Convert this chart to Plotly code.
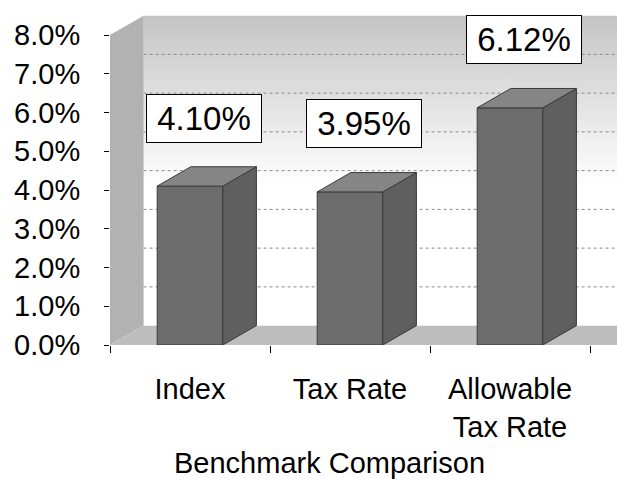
import plotly.graph_objects as go

categories = ["Index", "Tax Rate", "Allowable<br>Tax Rate"]
values = [4.10, 3.95, 6.12]
value_labels = ["4.10%", "3.95%", "6.12%"]
y_ticks = [0, 1, 2, 3, 4, 5, 6, 7, 8]
y_tick_labels = ["0.0%", "1.0%", "2.0%", "3.0%", "4.0%", "5.0%", "6.0%", "7.0%", "8.0%"]

FONT = "Arial, Liberation Sans, sans-serif"
DX, DY = 0.21, 0.5      # 3-D depth offset in data units
HW = 0.205              # half width of a bar's front face
n = len(categories)
centers = [i + 0.5 for i in range(n)]
ymax_wall = max(y_ticks)

fig = go.Figure()

def poly(xs, ys, fill, line_color=None, width=0, **kw):
    fig.add_trace(go.Scatter(
        x=xs + [xs[0]], y=ys + [ys[0]], mode="lines", fill="toself",
        fillcolor=fill, line=dict(color=line_color or fill, width=width),
        hoverinfo="skip", showlegend=False, **kw))

# back wall (gradient)
fig.add_trace(go.Scatter(
    x=[DX, n + DX + 0.5, n + DX + 0.5, DX, DX],
    y=[DY, DY, ymax_wall + DY, ymax_wall + DY, DY],
    mode="lines", fill="toself", line=dict(width=0, color="rgba(0,0,0,0)"),
    fillgradient=dict(type="vertical",
                      colorscale=[[0, "#ffffff"], [0.45, "#ffffff"], [1, "#c4c4c4"]]),
    hoverinfo="skip", showlegend=False))
# left wall
poly([0, DX, DX, 0], [0, DY, ymax_wall + DY, ymax_wall], "#b2b2b2")
# floor
poly([0, n + 0.5, n + 0.5 + DX, DX], [0, 0, DY, DY], "#bdbdbd")

# gridlines on back wall
for t in y_ticks[1:-1]:
    fig.add_trace(go.Scatter(
        x=[DX, n + DX + 0.5], y=[t + DY, t + DY], mode="lines",
        line=dict(color="#8a8a8a", width=1, dash="dot"),
        hoverinfo="skip", showlegend=False))

# 3-D bars
for c, v in zip(centers, values):
    x0, x1 = c - HW, c + HW
    poly([x0, x1, x1, x0], [0, 0, v, v], "#6c6c6c", "#3a3a3a", 1)
    poly([x1, x1 + DX, x1 + DX, x1], [0, DY, v + DY, v], "#5f5f5f", "#3a3a3a", 1)
    poly([x0, x1, x1 + DX, x0 + DX], [v, v, v + DY, v + DY], "#858585", "#3a3a3a", 1)

annotations = []
for c, v, lab in zip(centers, values, value_labels):
    annotations.append(dict(
        x=c, y=v, xref="x", yref="y", text=lab, showarrow=False,
        xshift=14, yshift=68, font=dict(family=FONT, size=33, color="black"),
        bgcolor="white", bordercolor="black", borderwidth=1, borderpad=3,
        width=108, height=41))

annotations.append(dict(
    x=0.432, y=-0.354, xref="paper", yref="paper", text="Benchmark Comparison",
    showarrow=False, font=dict(family=FONT, size=29, color="black"),
    xanchor="center", yanchor="middle"))

fig.update_layout(
    width=617, height=479,
    margin=dict(l=110, r=0, t=12, b=134),
    paper_bgcolor="white", plot_bgcolor="white",
    showlegend=False,
    annotations=annotations,
    xaxis=dict(
        range=[0, 507 / 160], showgrid=False, zeroline=False, showline=False,
        tickvals=centers, ticktext=categories, ticks="",
        ticklabelstandoff=24,
        tickfont=dict(family=FONT, size=29, color="black"),
        minor=dict(tickvals=list(range(n + 1)), ticks="outside", ticklen=7,
                   tickcolor="black", tickwidth=1, showgrid=False),
    ),
    yaxis=dict(
        range=[0, 333 / 38.75], showgrid=False, zeroline=False, showline=False,
        tickvals=y_ticks, ticktext=y_tick_labels, ticks="outside", ticklen=5,
        tickcolor="black", ticklabelstandoff=18,
        tickfont=dict(family=FONT, size=29, color="black"),
    ),
)

fig.write_html("out.html")
